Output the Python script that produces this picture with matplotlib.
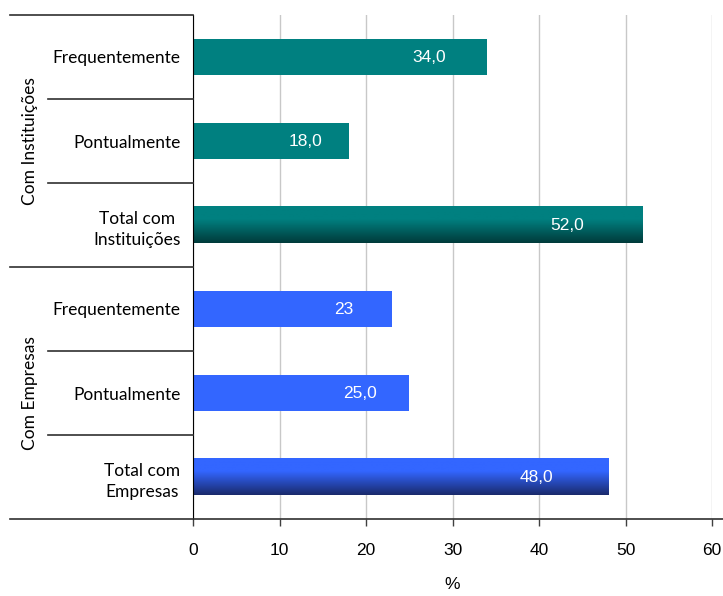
import numpy as np
import matplotlib
matplotlib.use("Agg")
import matplotlib.pyplot as plt
from matplotlib.colors import LinearSegmentedColormap
import matplotlib.transforms as mtransforms

# ── data (top to bottom) ─────────────────────────────────────────────────────
categories = ["Frequentemente", "Pontualmente", "Total com\nInstituições",
              "Frequentemente", "Pontualmente", "Total com\nEmpresas"]
values = [34.0, 18.0, 52.0, 23.0, 25.0, 48.0]
value_labels = ["34,0", "18,0", "52,0", "23", "25,0", "48,0"]
groups = ["Com Instituições", "Com Empresas"]
is_total = [False, False, True, False, False, True]
xticks = [0, 10, 20, 30, 40, 50, 60]

TEAL = "#008080"
TEAL_DARK = "#003b3b"
BLUE = "#3366ff"
BLUE_DARK = "#1a2a6c"
colors = [TEAL] * 3 + [BLUE] * 3
dark = [TEAL_DARK] * 3 + [BLUE_DARK] * 3

CAT_FONT = "Lato"
NUM_FONT = "Liberation Sans"

fig = plt.figure(figsize=(7.23, 5.96), dpi=100)
ax = fig.add_axes([193 / 723, 77 / 596, 519 / 723, 504 / 596])

n = len(categories)
ypos = np.arange(n)[::-1]
bar_h = 0.44

for y, v, c, d, tot in zip(ypos, values, colors, dark, is_total):
    if tot:
        cmap = LinearSegmentedColormap.from_list("g", [(0, c), (0.35, c), (1, d)])
        grad = np.linspace(0, 1, 64).reshape(-1, 1)
        ax.imshow(grad, cmap=cmap, aspect="auto", origin="upper",
                  extent=(0, v, y - bar_h / 2, y + bar_h / 2), zorder=2)
    else:
        ax.barh(y, v, height=bar_h, color=c, zorder=2)

for y, v, lab in zip(ypos, values, value_labels):
    ax.text(v * 0.89 - 3, y, lab, ha="center", va="center", color="white",
            fontsize=12.5, family=NUM_FONT, zorder=3)

ax.set_xlim(0, 60)
ax.set_ylim(-0.5, n - 0.5)
ax.set_xticks(xticks)
ax.set_xticklabels([str(t) for t in xticks], family=NUM_FONT, fontsize=12.5)
ax.tick_params(axis="x", direction="out", length=5, width=1, color="#404040", pad=12)
ax.set_yticks(ypos)
ax.set_yticklabels(categories, family=CAT_FONT, fontsize=12.5, multialignment="center",
                   linespacing=1.45)
ax.tick_params(axis="y", length=0, pad=9)
ax.set_xlabel("%", family=NUM_FONT, fontsize=12.5, labelpad=14)

ax.grid(axis="x", color="#c8c8c8", linewidth=1, zorder=0)
for s in ["top", "right", "bottom"]:
    ax.spines[s].set_visible(False)
ax.spines["left"].set_color("black")

# separators in the label area
trans = mtransforms.blended_transform_factory(ax.transAxes, ax.transData)
x_outer = -183 / 519
x_inner = -145 / 519
for b in np.arange(n + 1) - 0.5:
    k = int(b + 0.5)
    x0 = x_outer if k % 3 == 0 else x_inner
    x1 = 1 + 11 / 519 if k == 0 else 0
    ax.plot([x0, x1], [b, b], transform=trans, color="#303030", lw=1.2,
            clip_on=False, zorder=4)

# group labels
for i, g in enumerate(groups):
    yc = n - 1 - (3 * i + 1)
    ax.text(-163 / 519, yc, g, transform=trans, rotation=90, ha="center",
            va="center", family=CAT_FONT, fontsize=12.5)

fig.savefig("out.png", dpi=100)
